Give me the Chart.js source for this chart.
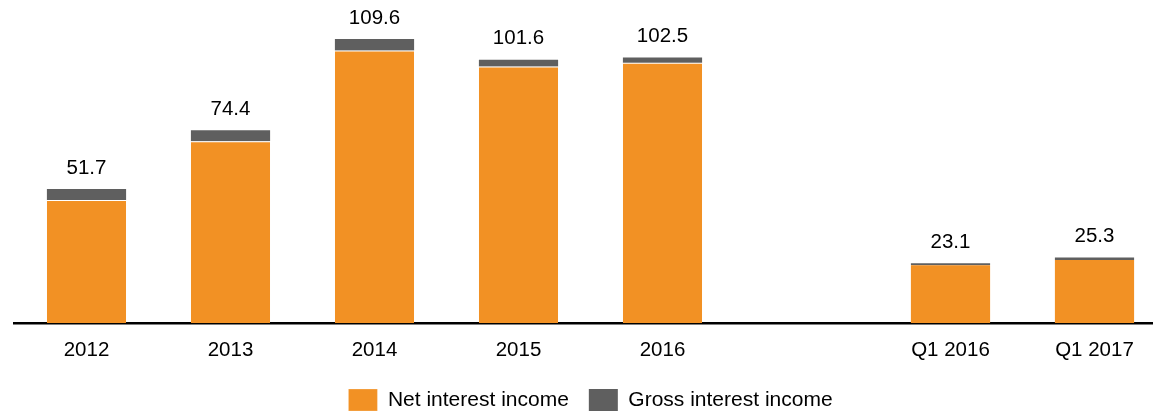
<!DOCTYPE html>
<html>
<head>
<meta charset="utf-8">
<script src="https://cdn.jsdelivr.net/npm/chart.js@4.4.1/dist/chart.umd.min.js"></script>
<style>
  html, body { margin: 0; padding: 0; background: #fff; overflow: hidden; }
  #wrap { position: relative; width: 1179px; height: 421px; }
</style>
</head>
<body>
<div id="wrap"><canvas id="c"></canvas></div>
<script>
const categories = ['2012', '2013', '2014', '2015', '2016', '', 'Q1 2016', 'Q1 2017'];
const netInterest = [47.5, 70.1, 105.2, 99.0, 100.4, null, 22.3, 24.3];
const grossInterest = [51.7, 74.4, 109.6, 101.6, 102.5, null, 23.1, 25.3];
const totalLabels = ['51.7', '74.4', '109.6', '101.6', '102.5', '', '23.1', '25.3'];

const grossPart = grossInterest.map((g, i) => (g == null || netInterest[i] == null) ? null : +(g - netInterest[i]).toFixed(2));

const FONT = "'Liberation Sans', Arial, sans-serif";

const labelPlugin = {
  id: 'totals',
  afterDatasetsDraw(chart) {
    const ctx = chart.ctx;
    const meta = chart.getDatasetMeta(1);
    ctx.save();
    ctx.font = '20.5px ' + FONT;
    ctx.fillStyle = '#000';
    ctx.textAlign = 'center';
    ctx.textBaseline = 'middle';
    meta.data.forEach((bar, i) => {
      if (!totalLabels[i]) return;
      ctx.fillText(totalLabels[i], bar.x, bar.y - 21);
    });
    ctx.restore();
  }
};

new Chart(document.getElementById('c'), {
  type: 'bar',
  data: {
    labels: categories,
    datasets: [
      {
        label: 'Net interest income',
        data: netInterest,
        backgroundColor: '#F29124',
        borderColor: '#ffffff',
        borderWidth: (ctx) => ({ top: (grossPart[ctx.dataIndex] || 0) > 1.5 ? 1 : 0, left: 0, right: 0, bottom: 0 }),
        borderSkipped: false,
        categoryPercentage: 1,
        barPercentage: 0.55
      },
      {
        label: 'Gross interest income',
        data: grossPart,
        backgroundColor: '#5F5F5F',
        borderWidth: 0,
        categoryPercentage: 1,
        barPercentage: 0.55
      }
    ]
  },
  options: {
    responsive: true,
    maintainAspectRatio: false,
    animation: false,
    layout: { padding: { left: 14.5, right: 12.5, top: 0, bottom: 0 } },
    scales: {
      x: {
        stacked: true,
        grid: { display: false, drawTicks: false },
        border: { display: true, color: '#000', width: 2.5 },
        ticks: { color: '#000', font: { family: FONT, size: 20.5 }, padding: 15 },
        afterFit(scale) { scale.height = 46; }
      },
      y: {
        stacked: true,
        display: false,
        min: 0,
        max: 124.65
      }
    },
    plugins: {
      legend: {
        position: 'bottom',
        labels: {
          color: '#000',
          font: { family: FONT, size: 21 },
          boxWidth: 29,
          boxHeight: 22,
          padding: 20
        }
      },
      tooltip: { enabled: false }
    }
  },
  plugins: [labelPlugin]
});
</script>
</body>
</html>
